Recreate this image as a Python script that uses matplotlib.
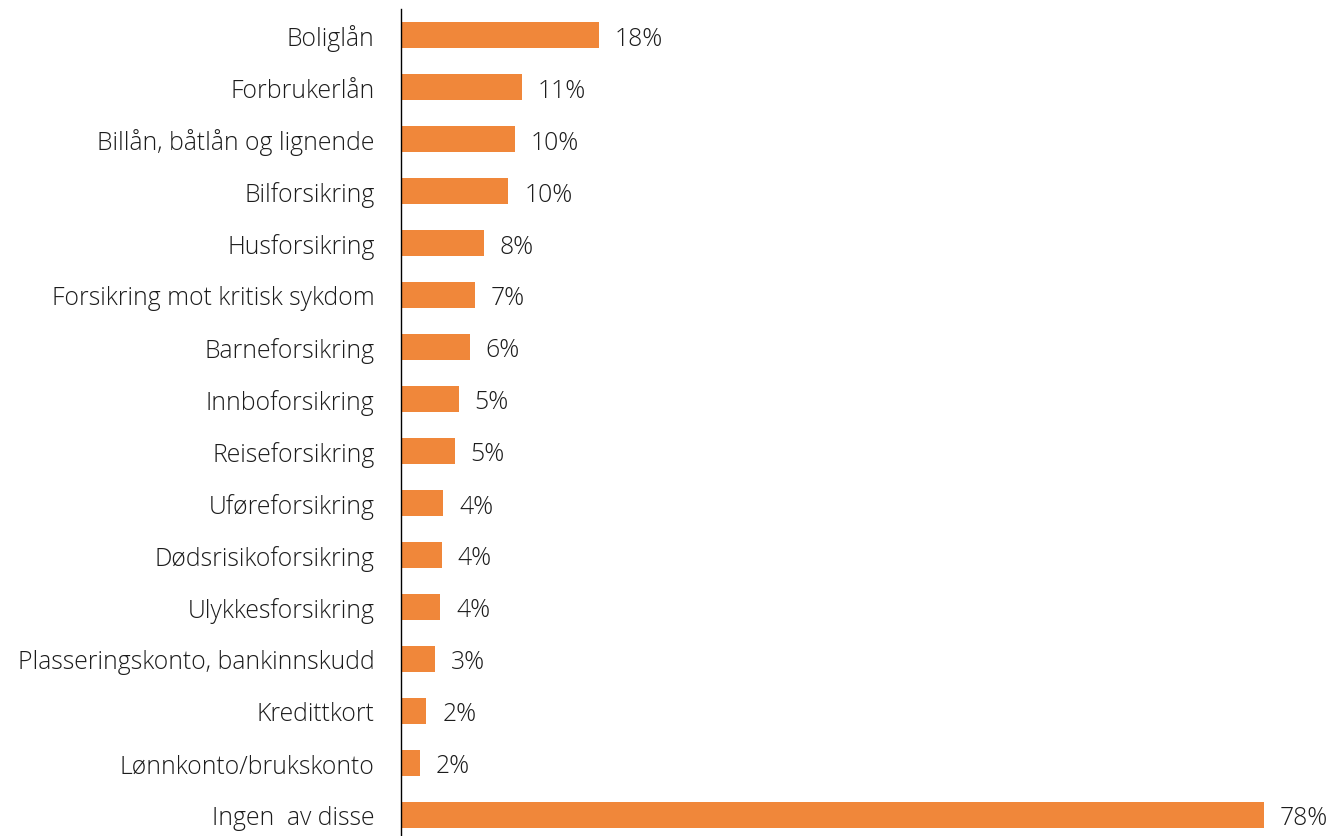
import matplotlib.pyplot as plt

categories = [
    'Boliglån', 'Forbrukerlån', 'Billån, båtlån og lignende', 'Bilforsikring',
    'Husforsikring', 'Forsikring mot kritisk sykdom', 'Barneforsikring',
    'Innboforsikring', 'Reiseforsikring', 'Uføreforsikring',
    'Dødsrisikoforsikring', 'Ulykkesforsikring',
    'Plasseringskonto, bankinnskudd', 'Kredittkort', 'Lønnkonto/brukskonto',
    'Ingen  av disse',
]
values = [17.9, 10.9, 10.3, 9.7, 7.5, 6.7, 6.2, 5.2, 4.85, 3.8, 3.7, 3.55,
          3.1, 2.3, 1.7, 78.0]

orange = '#F0873A'
plt.rcParams['font.family'] = ['Open Sans', 'DejaVu Sans']

fig = plt.figure(figsize=(13.33, 8.37), dpi=100)
ax = fig.add_axes([401 / 1333, -5 / 837, (1286 - 401) / 1333, 832 / 837])

pos = list(range(len(categories)))
bars = ax.barh(pos, values, height=0.5, color=orange)
for b, v in zip(bars, values):
    ax.annotate('%d%%' % round(v), (b.get_width(), b.get_y() + b.get_height() / 2),
                xytext=(11.5, 0), textcoords='offset points', va='center_baseline',
                fontsize=17.8, fontweight='light', color='#1c1c1c')

ax.set_yticks(pos)
ax.set_yticklabels(categories, fontsize=17.8, fontweight='light', color='#1c1c1c',
                   va='center_baseline')
ax.tick_params(axis='y', length=0, pad=19)
ax.set_ylim(15.5, -0.5)
ax.set_xlim(0, 80)
ax.set_xticks([])
for side in ['top', 'right', 'bottom']:
    ax.spines[side].set_visible(False)
ax.spines['left'].set_color('black')
ax.spines['left'].set_linewidth(1)

fig.savefig('out.png', dpi=100)
